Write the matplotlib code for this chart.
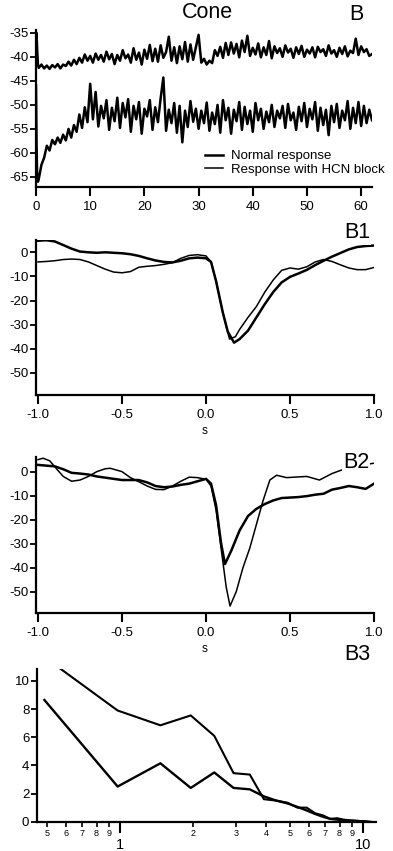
import numpy as np
import matplotlib
matplotlib.use("Agg")
import matplotlib.pyplot as plt
from matplotlib.ticker import FixedLocator, FixedFormatter

plt.rcParams['font.family'] = ['Liberation Sans', 'DejaVu Sans']
plt.rcParams['axes.unicode_minus'] = False

# ---------------- Panel B: membrane potential traces (mV) vs time (s) ----------------
t_start = [0.0, 0.1, 0.2, 0.35]
t_main = np.arange(0.5, 62.01, 0.5)
time_B = np.concatenate([t_start, t_main])

normal_B = [-36.0, -35.0, -38.0, -41.5,
    -42.3, -41.6, -42.4, -41.8, -42.5, -41.7, -42.2, -41.5, -42.4, -41.6,
    -41.9, -41.0, -41.8, -40.6, -41.5, -40.2, -41.2, -39.5, -40.8, -39.8,
    -41.2, -39.3, -40.6, -39.6, -41.0, -38.9, -40.5, -39.4, -41.5, -39.6,
    -40.8, -38.6, -40.3, -39.5, -41.2, -38.2, -40.6, -39.1, -41.6, -38.5,
    -40.4, -37.5, -40.9, -38.3, -41.0, -37.6, -40.2, -39.0, -35.8, -40.8,
    -38.0, -41.3, -37.8, -40.5, -36.9, -41.0, -37.4, -40.6, -38.0, -35.4,
    -41.2, -40.4, -41.6, -40.8, -41.3, -38.6, -39.8, -37.9, -40.2, -37.1,
    -39.6, -37.0, -39.3, -37.3, -40.1, -36.6, -39.0, -35.6, -39.8, -38.1,
    -39.5, -37.2, -40.1, -38.0, -39.6, -36.7, -40.3, -37.8, -39.2, -38.2,
    -40.0, -37.6, -39.1, -38.3, -40.2, -38.0, -39.4, -37.7, -40.0, -38.5,
    -39.3, -38.0, -40.1, -37.9, -39.0, -38.4, -39.8, -37.6, -39.3, -38.6,
    -40.0, -38.1, -39.4, -37.8, -39.9, -38.7, -39.2, -36.2, -39.6, -37.8,
    -39.0, -38.4, -39.8, -39.4]

hcn_B = [-46.0, -58.0, -64.0, -66.0,
    -65.5, -62.5, -61.0, -58.5, -59.5, -57.3, -58.2, -56.8, -57.9, -56.2,
    -57.4, -55.0, -56.8, -54.2, -55.6, -52.0, -54.8, -50.5, -53.6, -45.6,
    -53.0, -47.3, -54.5, -50.2, -52.8, -49.0, -55.2, -50.6, -53.4, -48.5,
    -54.8, -49.6, -52.6, -48.8, -55.6, -50.2, -53.0, -49.4, -56.0, -50.8,
    -52.4, -49.0, -55.2, -50.5, -53.6, -48.6, -44.3, -55.4, -51.0, -53.8,
    -49.6, -55.8, -50.2, -57.8, -51.2, -54.6, -49.2, -53.5, -50.8, -55.0,
    -51.2, -53.8, -49.5, -55.4, -51.6, -54.0, -50.0, -55.8, -49.0, -53.2,
    -50.6, -56.0, -51.0, -53.4, -49.4, -55.2, -50.4, -54.0, -51.2, -55.6,
    -49.6, -53.2, -50.8, -55.0, -51.4, -53.6, -50.0, -54.6, -51.2, -52.8,
    -50.2, -54.8, -49.8, -53.2, -51.6, -55.2, -50.4, -53.4, -49.6, -54.6,
    -50.8, -53.0, -49.4, -55.4, -50.6, -54.2, -51.0, -56.3, -50.2, -53.6,
    -49.8, -54.8, -51.2, -53.2, -49.2, -55.0, -50.6, -53.8, -49.4, -54.4,
    -50.2, -53.8, -51.0, -53.2]

B_xticks = [0, 10, 20, 30, 40, 50, 60]
B_yticks = [-35, -40, -45, -50, -55, -60, -65]

# ---------------- Panel B1 ----------------
B1_x_normal = [-1.0, -0.95, -0.9, -0.85, -0.8, -0.75, -0.7, -0.65, -0.6, -0.55, -0.5, -0.45,
               -0.4, -0.35, -0.3, -0.25, -0.2, -0.15, -0.1, -0.05, 0.0, 0.03, 0.06, 0.1, 0.13,
               0.167, 0.2, 0.25, 0.3, 0.35, 0.4, 0.45, 0.5, 0.55, 0.6, 0.65, 0.7, 0.75, 0.8,
               0.85, 0.9, 0.95, 1.0]
B1_normal = [4.8, 5.0, 4.5, 3.0, 1.5, 0.3, 0.0, -0.2, 0.0, -0.2, -0.4, -0.8,
             -1.5, -2.5, -3.4, -4.0, -4.2, -3.5, -2.5, -2.2, -2.5, -4.0, -12.0, -25.0, -33.0,
             -37.5, -36.0, -32.5, -27.0, -21.5, -16.5, -12.5, -10.2, -8.8, -7.3, -5.3, -3.5, -1.8, -0.3,
             1.2, 2.2, 2.6, 2.8]
B1_x_hcn = [-1.0, -0.95, -0.9, -0.85, -0.8, -0.75, -0.7, -0.65, -0.6, -0.55, -0.5, -0.45,
            -0.4, -0.35, -0.3, -0.25, -0.2, -0.15, -0.1, -0.05, 0.0, 0.03, 0.06, 0.1, 0.14,
            0.175, 0.2, 0.25, 0.3, 0.35, 0.4, 0.45, 0.5, 0.55, 0.6, 0.65, 0.7, 0.75, 0.8,
            0.85, 0.9, 0.95, 1.0]
B1_hcn = [-4.0, -3.8, -3.5, -3.0, -2.8, -3.0, -4.0, -5.5, -7.0, -8.2, -8.5, -8.0,
          -6.2, -5.8, -5.5, -5.0, -4.3, -2.5, -1.3, -1.0, -1.5, -4.0, -12.0, -25.0, -36.0,
          -35.0, -32.0, -27.0, -22.5, -16.5, -11.5, -7.5, -6.5, -7.0, -6.0, -4.0, -3.0, -3.8, -5.2,
          -6.5, -7.2, -7.2, -6.3]

# ---------------- Panel B2 ----------------
B2_x_normal = [-1.0, -0.9, -0.85, -0.8, -0.75, -0.7, -0.65, -0.6, -0.5, -0.4, -0.35, -0.3,
               -0.25, -0.2, -0.15, -0.1, -0.05, 0.0, 0.03, 0.06, 0.09, 0.113, 0.15, 0.2, 0.25,
               0.3, 0.35, 0.4, 0.45, 0.5, 0.55, 0.6, 0.65, 0.7, 0.75, 0.8, 0.85, 0.9, 0.95, 1.0]
B2_normal = [2.8, 2.2, 1.0, -0.5, -0.8, -1.2, -2.0, -2.5, -3.5, -3.5, -4.5, -6.0,
             -6.5, -6.2, -5.5, -5.0, -4.0, -3.0, -5.0, -14.0, -30.0, -38.5, -33.0, -24.5, -18.5,
             -15.5, -13.5, -12.0, -11.0, -10.8, -10.6, -10.2, -9.6, -9.2, -7.5, -6.8, -6.0, -6.5, -7.2, -5.0]
B2_x_hcn = [-1.0, -0.97, -0.93, -0.9, -0.85, -0.8, -0.75, -0.7, -0.65, -0.6, -0.57, -0.5,
            -0.45, -0.4, -0.35, -0.3, -0.25, -0.2, -0.15, -0.1, -0.05, 0.0, 0.03, 0.06, 0.09,
            0.12, 0.143, 0.18, 0.22, 0.26, 0.3, 0.34, 0.38, 0.42, 0.48, 0.55, 0.6, 0.675, 0.75,
            0.8, 0.85, 0.9, 0.95, 1.0]
B2_hcn = [5.0, 5.6, 4.5, 2.0, -2.0, -4.0, -3.5, -2.0, 0.0, 1.2, 1.4, 0.0,
          -2.5, -4.2, -6.0, -7.4, -7.5, -6.0, -4.0, -2.3, -2.5, -3.2, -6.0, -16.0, -32.0,
          -48.0, -56.0, -50.0, -40.0, -32.0, -22.0, -12.0, -3.5, -1.5, -2.5, -2.2, -2.0, -3.5, -0.8,
          0.5, 1.5, 2.5, 3.0, 3.5]

S_ticks = [-1.0, -0.5, 0.0, 0.5, 1.0]
B1_yticks = [0, -10, -20, -30, -40, -50]

# ---------------- Panel B3: power spectra ----------------
freq_B3 = [0.488, 0.977, 1.465, 1.953, 2.441, 2.930, 3.418, 3.906, 4.395, 4.883, 5.371,
           5.859, 6.348, 6.836, 7.324, 7.813, 8.301, 8.789, 9.277, 9.766, 10.25, 10.74, 11.23]
B3_upper = [11.7, 7.9, 6.85, 7.55, 6.1, 3.45, 3.35, 1.6, 1.5, 1.35, 1.0,
            1.0, 0.6, 0.45, 0.2, 0.25, 0.15, 0.1, 0.08, 0.05, 0.03, 0.0, -0.05]
B3_lower = [8.65, 2.5, 4.15, 2.4, 3.5, 2.4, 2.3, 1.8, 1.5, 1.3, 1.05,
            0.8, 0.55, 0.35, 0.2, 0.15, 0.1, 0.08, 0.05, 0.03, 0.0, -0.05, -0.1]
B3_yticks = [0, 2, 4, 6, 8, 10]
B3_major = [1, 10]
B3_minor = [0.5, 0.6, 0.7, 0.8, 0.9, 2, 3, 4, 5, 6, 7, 8, 9]
B3_minor_labels = ['5', '6', '7', '8', '9', '2', '3', '4', '5', '6', '7', '8', '9']

W, H = 393, 851
fig = plt.figure(figsize=(W / 100, H / 100), dpi=100)

TICKFS = 9.5


def add_ax(left, top, right, bottom):
    return fig.add_axes([left / W, 1 - bottom / H, (right - left) / W, (bottom - top) / H])


def style(ax):
    for s in ['top', 'right']:
        ax.spines[s].set_visible(False)
    for s in ['left', 'bottom']:
        ax.spines[s].set_linewidth(1.6)
    ax.tick_params(axis='x', direction='out', length=6.5, width=1.5, pad=3.5, labelsize=TICKFS)
    ax.tick_params(axis='y', direction='out', length=4.3, width=1.3, pad=1.2, labelsize=TICKFS)
    ax.patch.set_alpha(0)


THICK, THIN = 1.8, 1.1

# Panel B
axB = add_ax(36, 30, 372, 187)
style(axB)
axB.plot(time_B, normal_B, color='black', lw=1.8)
axB.plot(time_B, hcn_B, color='black', lw=1.8)
axB.set_xlim(0, 62)
axB.set_ylim(-67.1, -34.4)
axB.set_xticks(B_xticks)
axB.set_yticks(B_yticks)
h1, = axB.plot([], [], color='black', lw=THICK)
h2, = axB.plot([], [], color='black', lw=THIN)
fig.legend([h1, h2], ['Normal response', 'Response with HCN block'],
           loc='upper left', bbox_to_anchor=(205 / W, 1 - 150 / H), frameon=False,
           fontsize=9.5, handlelength=1.35, handletextpad=0.6, labelspacing=0.12,
           borderpad=0, borderaxespad=0)
fig.text(207 / W, 1 - 13 / H, 'Cone', fontsize=15.5, ha='center', va='center')
fig.text(356 / W, 1 - 14 / H, 'B', fontsize=15.5, ha='center', va='center')

# Panel B1
axB1 = add_ax(36, 240, 374, 395)
style(axB1)
axB1.plot(B1_x_normal, B1_normal, color='black', lw=THICK)
axB1.plot(B1_x_hcn, B1_hcn, color='black', lw=THIN)
axB1.set_xlim(-1.012, 1.0)
axB1.set_ylim(-59.2, 5.1)
axB1.set_xticks(S_ticks)
axB1.set_xticklabels(['%.1f' % v for v in S_ticks])
axB1.set_yticks(B1_yticks)
axB1.set_xlabel('s', fontsize=8.5, labelpad=3)
axB1.text(357 / W, 1 - 233 / H, 'B1', transform=fig.transFigure, fontsize=15.5,
          ha='center', va='center', bbox=dict(facecolor='white', edgecolor='none', pad=1))

# Panel B2
axB2 = add_ax(36, 457, 374, 613)
style(axB2)
axB2.plot(B2_x_normal, B2_normal, color='black', lw=THICK)
axB2.plot(B2_x_hcn, B2_hcn, color='black', lw=THIN)
axB2.set_xlim(-1.012, 1.0)
axB2.set_ylim(-58.9, 6.1)
axB2.set_xticks(S_ticks)
axB2.set_xticklabels(['%.1f' % v for v in S_ticks])
axB2.set_yticks(B1_yticks)
axB2.set_xlabel('s', fontsize=8.5, labelpad=3)
axB2.text(356 / W, 1 - 463 / H, 'B2', transform=fig.transFigure, fontsize=15.5,
          ha='center', va='center', bbox=dict(facecolor='white', edgecolor='none', pad=1))

# Panel B3
axB3 = add_ax(37, 669, 376, 822)
style(axB3)
axB3.plot(freq_B3, B3_upper, color='black', lw=1.5)
axB3.plot(freq_B3, B3_lower, color='black', lw=1.7)
axB3.set_xscale('log')
axB3.set_xlim(0.455, 11.3)
axB3.set_ylim(-0.02, 10.85)
axB3.set_yticks(B3_yticks)
axB3.xaxis.set_major_locator(FixedLocator(B3_major))
axB3.xaxis.set_major_formatter(FixedFormatter(['1', '10']))
axB3.xaxis.set_minor_locator(FixedLocator(B3_minor))
axB3.xaxis.set_minor_formatter(FixedFormatter(B3_minor_labels))
axB3.tick_params(axis='x', which='major', length=8, width=1.5, pad=3.5, labelsize=10.5)
axB3.tick_params(axis='x', which='minor', length=3.8, width=1.2, pad=1.5, labelsize=6.5)
axB3.text(357 / W, 1 - 655 / H, 'B3', transform=fig.transFigure, fontsize=15.5,
          ha='center', va='center', bbox=dict(facecolor='white', edgecolor='none', pad=1))

fig.savefig('out.png', dpi=100)
